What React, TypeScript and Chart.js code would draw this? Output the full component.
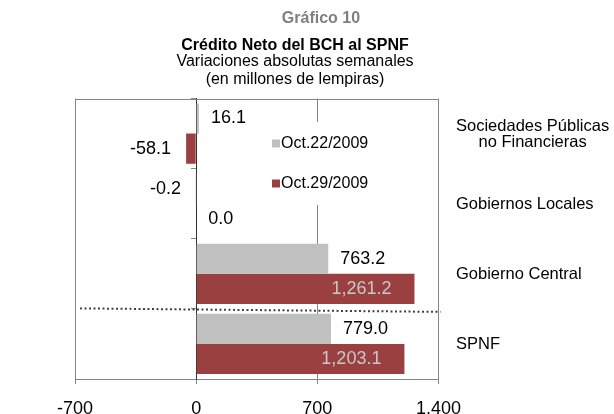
import React, { useEffect, useRef } from "react";
import { Chart, registerables } from "chart.js";

Chart.register(...registerables);

const categories: (string | string[])[] = [
  ["Sociedades Públicas", "no Financieras"],
  "Gobiernos Locales",
  "Gobierno Central",
  "SPNF",
];
const seriesNames = ["Oct.22/2009", "Oct.29/2009"];
const oct22 = [16.1, -0.2, 763.2, 779.0];
const oct29 = [-58.1, 0.0, 1261.2, 1203.1];
const xTicks = [-700, 0, 700, 1400];
const seriesColors = ["#C0C0C0", "#9B4040"];

const titleTop = "Gráfico 10";
const titleMain = "Crédito Neto del BCH al SPNF";
const subtitleLines = ["Variaciones absolutas semanales", "(en millones de lempiras)"];

const FONT = "'Liberation Sans', Arial, sans-serif";
const GRID = "#868686";

const fmt = (v: number) =>
  v.toLocaleString("en-US", { minimumFractionDigits: 1, maximumFractionDigits: 1 });

const decor = {
  id: "decor",
  afterDatasetsDraw(chart: any) {
    const ctx = chart.ctx as CanvasRenderingContext2D;
    const { left, right, top } = chart.chartArea;
    const xs = chart.scales.x;
    const ys = chart.scales.y;
    ctx.save();
    // top border
    ctx.strokeStyle = GRID;
    ctx.lineWidth = 1;
    ctx.beginPath();
    ctx.moveTo(left, Math.round(top) + 0.5);
    ctx.lineTo(right, Math.round(top) + 0.5);
    ctx.stroke();

    // value labels
    const base = xs.getPixelForValue(0);
    chart.data.datasets.forEach((ds: any, di: number) => {
      const meta = chart.getDatasetMeta(di);
      meta.data.forEach((bar: any, i: number) => {
        const v = ds.data[i] as number;
        const len = Math.abs(bar.x - base);
        const text = fmt(v);
        ctx.font = `18px ${FONT}`;
        ctx.textBaseline = "middle";
        if (ds.labelInside && v > 0 && len > 80) {
          ctx.textAlign = "right";
          ctx.fillStyle = "#C8C8C8";
          ctx.fillText(text, bar.x - 23, bar.y);
        } else if (v >= 0) {
          ctx.textAlign = "left";
          ctx.fillStyle = "#000";
          ctx.fillText(text, bar.x + 12, bar.y);
        } else {
          ctx.textAlign = "right";
          ctx.fillStyle = "#000";
          ctx.fillText(text, bar.x - 15, bar.y);
        }
      });
    });

    // legend
    ctx.fillStyle = "#fff";
    ctx.fillRect(268, 122, 104, 83);
    chart.data.datasets.forEach((ds: any, di: number) => {
      const ly = 143.5 + di * 40;
      ctx.fillStyle = ds.backgroundColor;
      ctx.fillRect(272, ly - 4, 8, 8);
      ctx.fillStyle = "#000";
      ctx.font = `16px ${FONT}`;
      ctx.textAlign = "left";
      ctx.textBaseline = "middle";
      ctx.fillText(ds.label, 281, ly);
    });

    // dotted separator
    const yb = ys.getPixelForValue(2.5);
    ctx.setLineDash([2, 2.5]);
    ctx.lineWidth = 2;
    ctx.strokeStyle = "#404040";
    ctx.beginPath();
    ctx.moveTo(left + 5, yb - 0.5);
    ctx.lineTo(right + 2, yb + 3);
    ctx.stroke();
    ctx.setLineDash([]);
    ctx.restore();
  },
  afterDraw(chart: any) {
    const ctx = chart.ctx as CanvasRenderingContext2D;
    const { right } = chart.chartArea;
    const ys = chart.scales.y;
    ctx.save();
    ctx.textBaseline = "middle";
    ctx.textAlign = "center";
    ctx.fillStyle = "#7F7F7F";
    ctx.font = `bold 16px ${FONT}`;
    ctx.fillText(titleTop, 321, 18.5);
    ctx.fillStyle = "#000";
    ctx.fillText(titleMain, 295, 46);
    ctx.font = `16px ${FONT}`;
    subtitleLines.forEach((t, i) => ctx.fillText(t, 295, 62 + i * 18));

    // category labels on the right
    ctx.font = `16.5px ${FONT}`;
    ctx.textAlign = "left";
    const lh = 16;
    chart.data.labels.forEach((lab: any, i: number) => {
      const lines: string[] = Array.isArray(lab) ? lab : [lab];
      const widths = lines.map((l) => ctx.measureText(l).width);
      const maxW = Math.max(...widths);
      const cy = ys.getPixelForValue(i) + 1;
      const y0 = cy - ((lines.length - 1) * lh) / 2;
      lines.forEach((l, k) => {
        ctx.fillText(l, right + 17.5 + (maxW - widths[k]) / 2, y0 + k * lh);
      });
    });
    ctx.restore();
  },
};

export default function App() {
  const ref = useRef<HTMLCanvasElement | null>(null);
  useEffect(() => {
    if (!ref.current) return;
    const chart = new Chart(ref.current, {
      type: "bar",
      data: {
        labels: categories,
        datasets: [
          {
            label: seriesNames[0],
            data: oct22,
            backgroundColor: seriesColors[0],
            barPercentage: 1,
            categoryPercentage: 0.86,
          } as any,
          {
            label: seriesNames[1],
            data: oct29,
            backgroundColor: seriesColors[1],
            barPercentage: 1,
            categoryPercentage: 0.86,
            labelInside: true,
          } as any,
        ],
      },
      options: {
        indexAxis: "y",
        responsive: false,
        animation: false,
        layout: { padding: { left: 75, right: 175.5, top: 98.5, bottom: 0.4 } },
        plugins: {
          legend: { display: false },
          tooltip: { enabled: false },
          title: { display: false },
        },
        scales: {
          x: {
            type: "linear",
            min: xTicks[0],
            max: xTicks[xTicks.length - 1],
            afterBuildTicks: (s: any) => {
              s.ticks = xTicks.map((v) => ({ value: v }));
            },
            grid: { color: GRID, lineWidth: 1, drawTicks: true, tickLength: 5 },
            border: { color: GRID },
            ticks: {
              color: "#000",
              padding: 14,
              font: { family: FONT, size: 18 },
              callback: (v: any) => Number(v).toLocaleString("en-US"),
            },
          },
          y: {
            type: "category",
            position: { x: 0 } as any,
            offset: true,
            ticks: { display: false },
            grid: {
              drawOnChartArea: false,
              drawTicks: true,
              tickLength: 5,
              color: GRID,
              offset: true,
            },
            border: { display: true, color: "#333" },
          },
        },
      } as any,
      plugins: [decor],
    });
    return () => chart.destroy();
  }, []);
  return (
    <div
      style={{
        position: "fixed",
        left: 0,
        top: 0,
        width: 614,
        height: 414,
        overflow: "hidden",
        background: "#fff",
      }}
    >
      <canvas ref={ref} width={614} height={434} style={{ display: "block" }} />
    </div>
  );
}
